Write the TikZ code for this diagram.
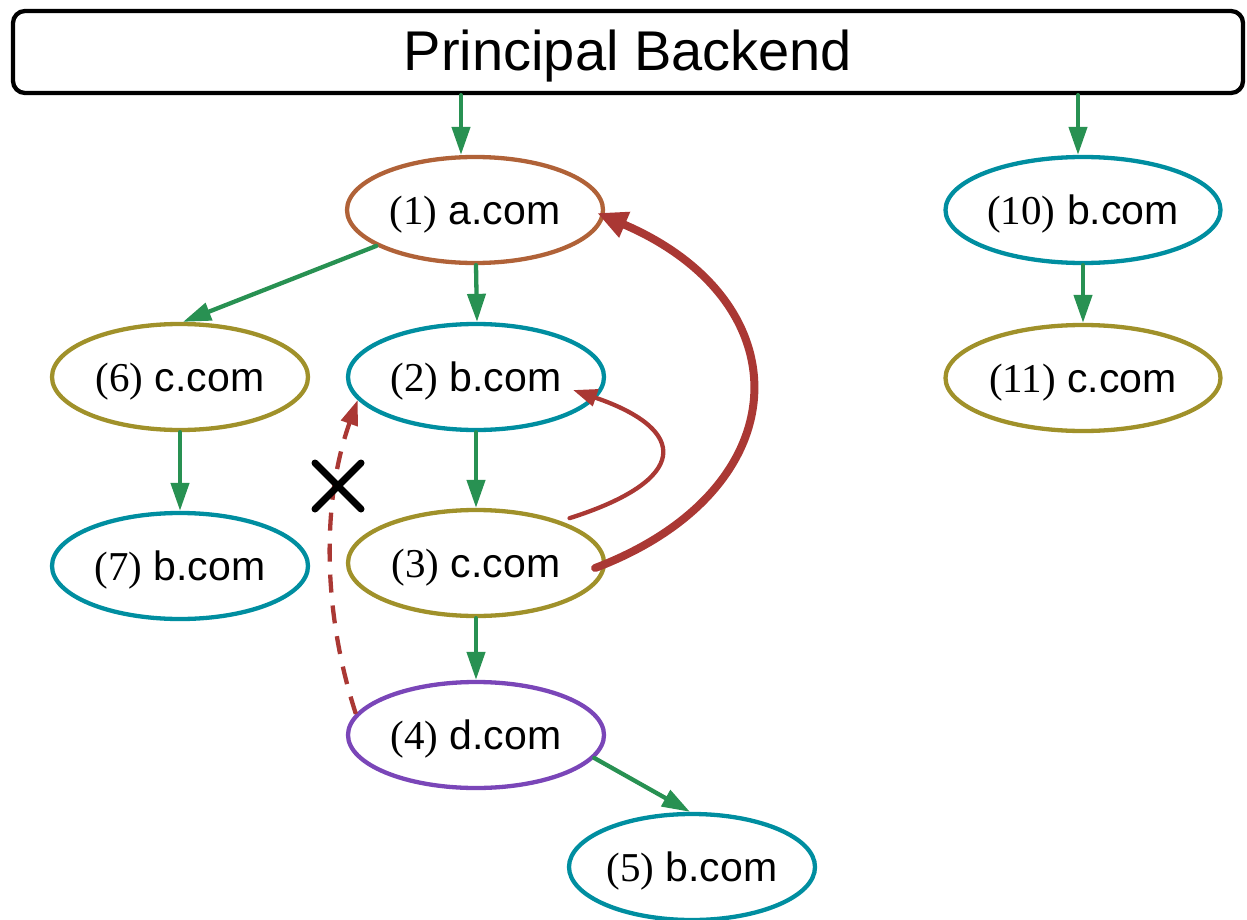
\documentclass[tikz,border=0pt]{standalone}
\usepackage{fontspec}
\setmainfont{Liberation Sans}
\newfontfamily\tms{Liberation Serif}
\usetikzlibrary{arrows.meta,shapes.geometric,calc}
\definecolor{corange}{RGB}{176,98,56}
\definecolor{cteal}{RGB}{0,142,160}
\definecolor{colive}{RGB}{160,145,42}
\definecolor{cpurple}{RGB}{122,70,184}
\definecolor{cgreen}{RGB}{40,145,82}
\definecolor{cred}{RGB}{170,56,52}
\tikzset{
  ell/.style={ellipse, draw, line width=4.3pt, minimum width=256pt, minimum height=106pt, inner sep=0pt,
    font=\fontsize{41}{45}\selectfont, text height=29pt, text depth=1pt},
  garrow/.style={draw=cgreen, line width=4.3pt, line cap=round, -{Triangle[length=28pt,width=18pt]}},
  rthin/.style={draw=cred, line width=4.3pt, line cap=round, -{Triangle[length=24pt,width=17pt]}},
  rthick/.style={draw=cred, line width=8pt, line cap=round, -{Triangle[length=30pt,width=26pt]}},
  rdash/.style={draw=cred, line width=4.3pt, dash pattern=on 18pt off 13pt, -{Triangle[length=25pt,width=17pt]}},
}
\begin{document}
\begin{tikzpicture}[x=1pt,y=-1pt]
\useasboundingbox (0,0) rectangle (1247,920);
\node[draw=black, line width=4.3pt, rounded corners=12pt, minimum width=1230pt, minimum height=82pt, inner sep=0pt,
  font=\fontsize{56}{60}\selectfont, text height=42pt, text depth=4pt] (pb) at (628,52) {Principal Backend};
\node[ell, draw=corange] (n1) at (475,210) {{\tms (1)} a.com};
\node[ell, draw=cteal] (n2) at (476,377) {{\tms (2)} b.com};
\node[ell, draw=colive] (n3) at (476,563) {{\tms (3)} c.com};
\node[ell, draw=cpurple] (n4) at (476,735) {{\tms (4)} d.com};
\node[ell, draw=cteal, minimum width=246pt] (n5) at (692,867) {{\tms (5)} b.com};
\node[ell, draw=colive] (n6) at (180,377) {{\tms (6)} c.com};
\node[ell, draw=cteal] (n7) at (180,566) {{\tms (7)} b.com};
\node[ell, draw=cteal, minimum width=275pt] (n10) at (1083,210) {{\tms (10)} b.com};
\node[ell, draw=colive, minimum width=275pt] (n11) at (1083,378) {{\tms (11)} c.com};

\coordinate (a1) at ([xshift=-14pt]n1.north);
\coordinate (a10) at ([xshift=-5pt]n10.north);
\draw[garrow] (a1 |- pb.south) -- (a1);
\draw[garrow] (a10 |- pb.south) -- (a10);
\draw[garrow] (n1.200) -- ([xshift=3pt]n6.north);
\draw[garrow] ([xshift=1pt]n1.south) -- ([xshift=1pt]n2.north);
\draw[garrow] (n2.south) -- (n3.north);
\draw[garrow] (n3.south) -- (n4.north);
\draw[garrow] (n4.-11) -- ([xshift=-2pt]n5.north);
\draw[garrow] (n6.south) -- (n7.north);
\draw[garrow] (n10.south) -- (n11.north);

\coordinate (t2) at ($(n2.center)+(97,13)$);
\coordinate (s2) at ($(n3.25)+(6,-4)$);
\coordinate (s1) at ($(n3.east)+(-11,5)$);
\coordinate (t1) at ($(n1.east)+(-8,3)$);
\draw[rthin] (s2) .. controls (690,480) and (690,430) .. (t2);
\draw[rthick] (s1) .. controls (800,490) and (805,302) .. (t1);
\draw[rdash] (n4.170) .. controls (322,610) and (322,500) .. (n2.191);

\draw[black, line width=7pt, line cap=round] (315,463) -- (361,509) (361,463) -- (315,509);
\end{tikzpicture}
\end{document}
